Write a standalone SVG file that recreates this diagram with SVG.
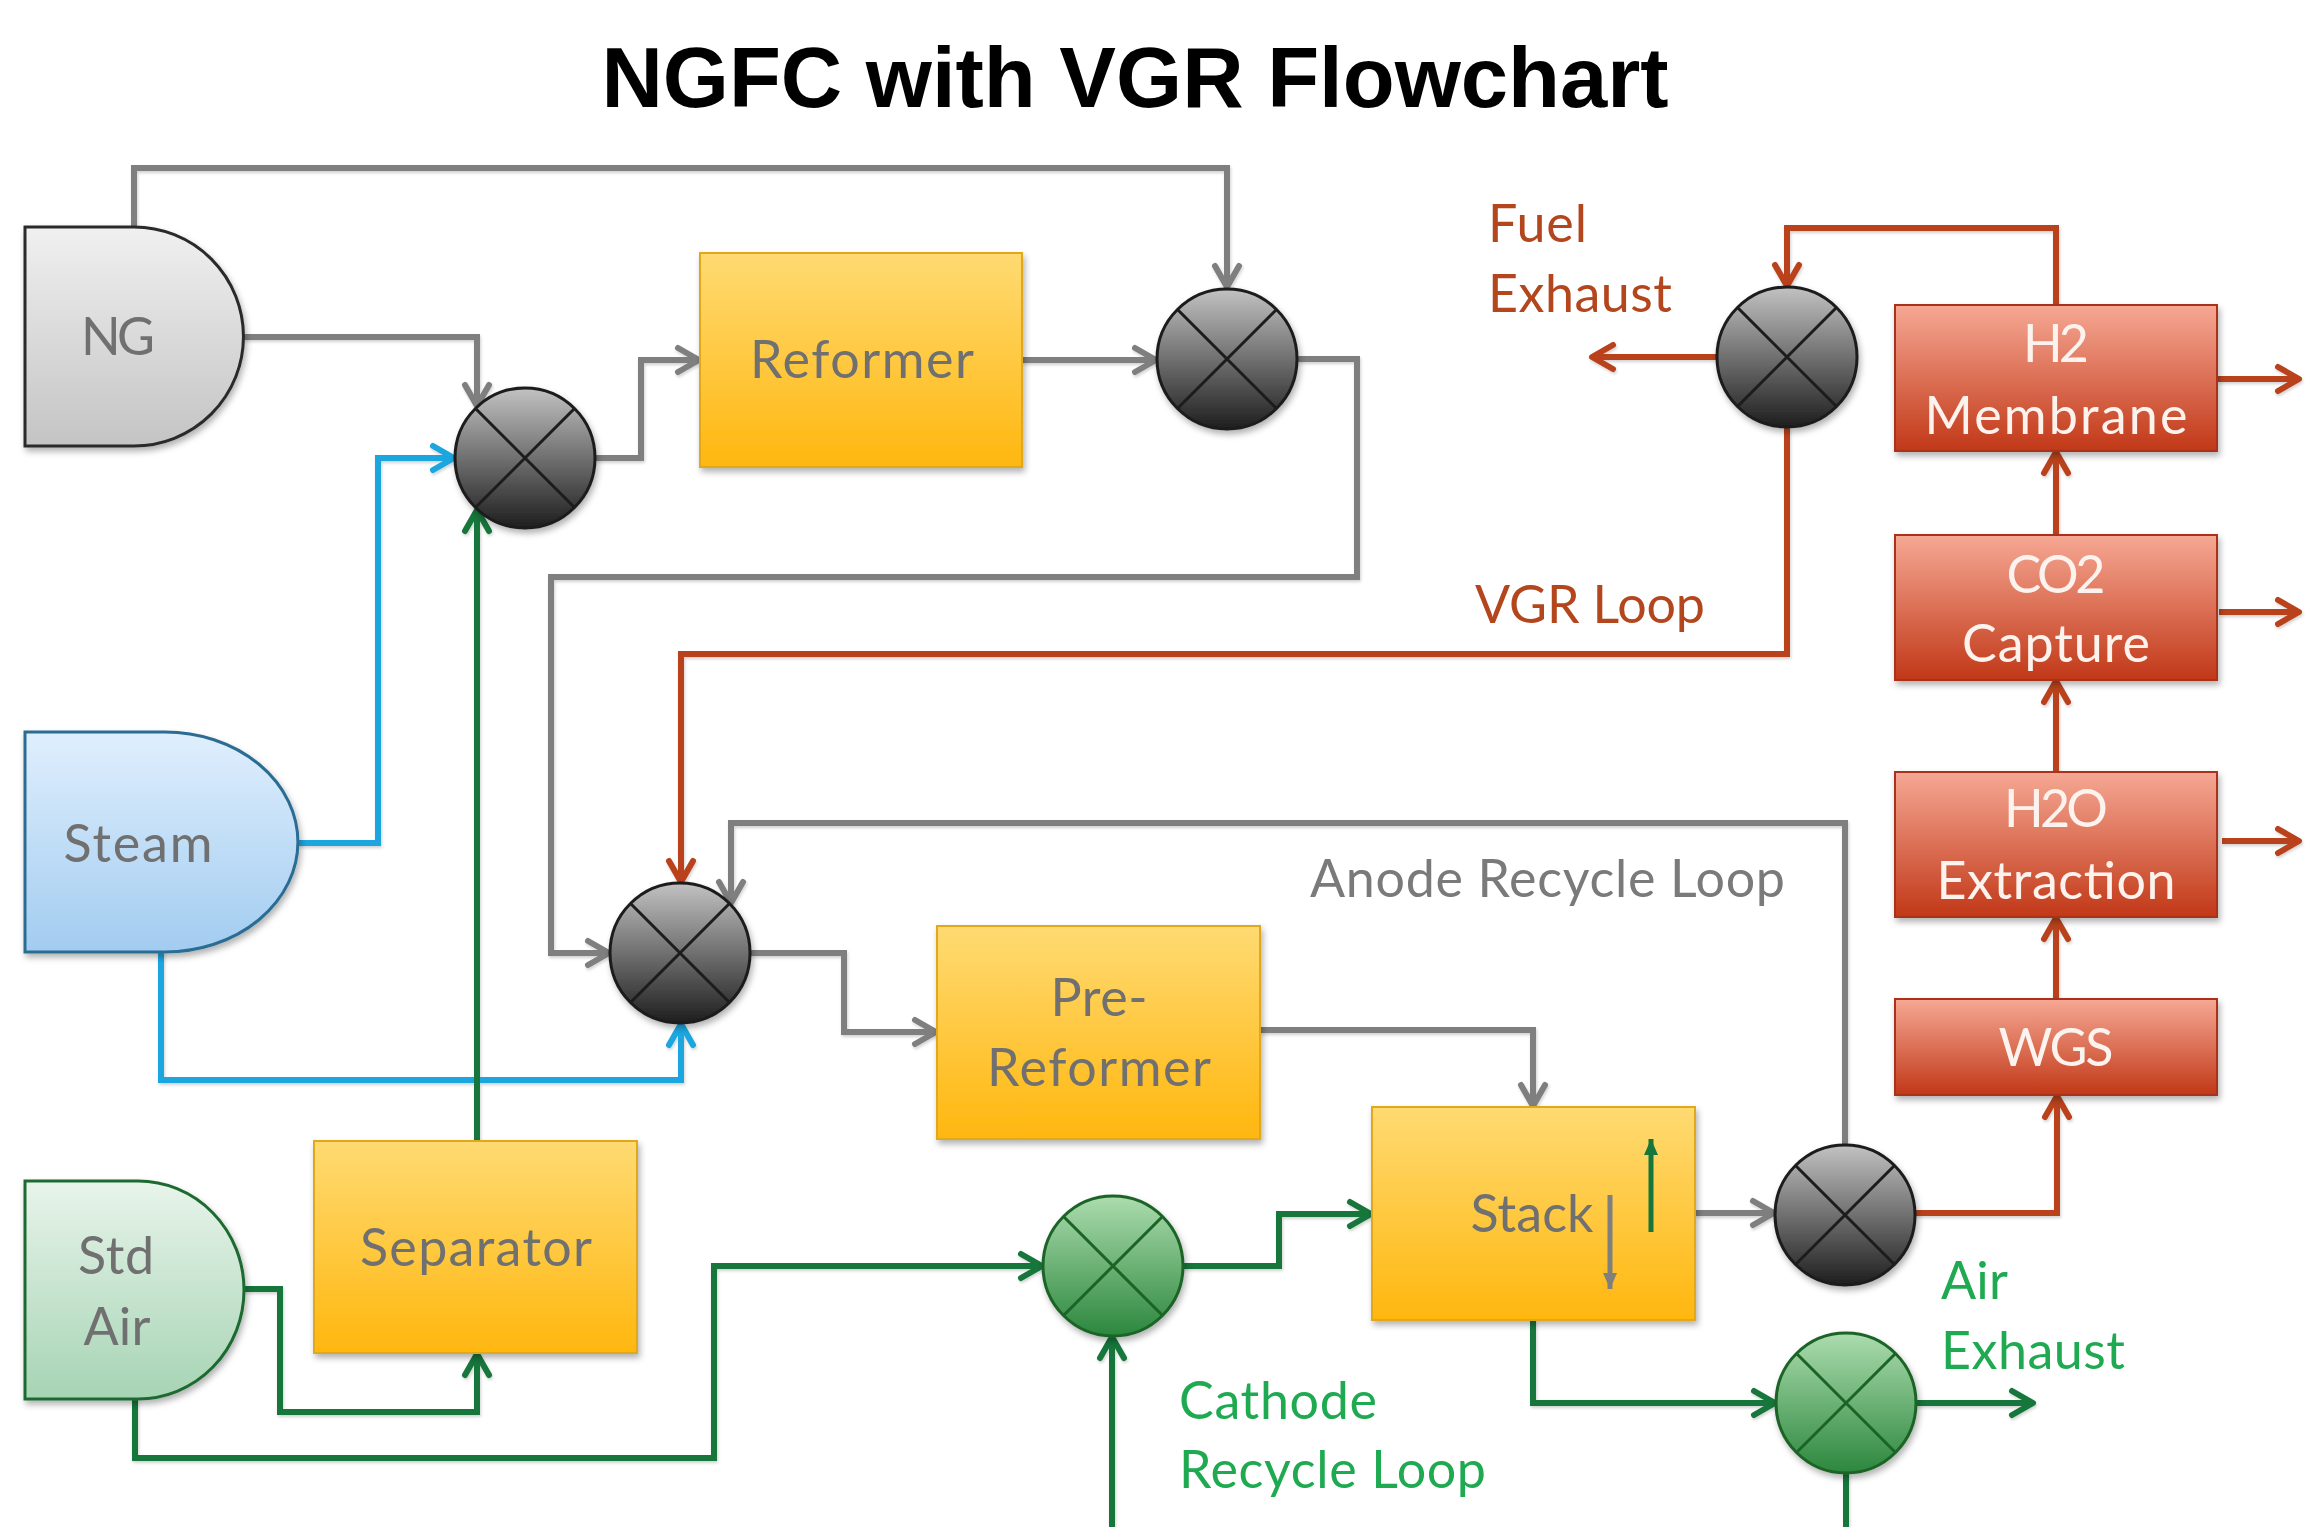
<svg xmlns="http://www.w3.org/2000/svg" width="2305" height="1527" viewBox="0 0 2305 1527">
  <style>
    .lbl { font-family: Lato, "Open Sans", "Liberation Sans", sans-serif; font-size: 52px; }
    .boxtxt { fill: #707070; text-anchor: middle; }
    .redtxt { fill: #fdf3ee; text-anchor: middle; }
    .title { font-family: "Liberation Sans", Arial, sans-serif; font-size: 85px; font-weight: bold; fill: #000; text-anchor: middle; }
    .ln { fill: none; stroke-width: 6; stroke-linejoin: miter; }
    .gray { stroke: #7f7f7f; }
    .blue { stroke: #1aa6e0; }
    .red { stroke: #b9421c; }
    .green { stroke: #18763a; }
    .ybox { fill: url(#gYellow); stroke: #e2a81e; stroke-width: 2; }
    .rbox { fill: url(#gRed); stroke: #a9321a; stroke-width: 2; }
    .mixg { fill: url(#gMixGray); stroke: #1c1c1c; stroke-width: 3; }
    .mixgr { fill: url(#gMixGreen); stroke: #1b6428; stroke-width: 3; }
    .xg { stroke: #1c1c1c; stroke-width: 3; }
    .xgr { stroke: #1b6428; stroke-width: 3; }
  </style>
  <defs>
    <linearGradient id="gYellow" x1="0" y1="0" x2="0" y2="1">
      <stop offset="0" stop-color="#ffda72"/>
      <stop offset="1" stop-color="#ffb70f"/>
    </linearGradient>
    <linearGradient id="gRed" x1="0" y1="0" x2="0" y2="1">
      <stop offset="0" stop-color="#f6a894"/>
      <stop offset="1" stop-color="#c13817"/>
    </linearGradient>
    <linearGradient id="gMixGray" x1="0" y1="0" x2="0" y2="1">
      <stop offset="0" stop-color="#c2c2c2"/>
      <stop offset="1" stop-color="#1e1e1e"/>
    </linearGradient>
    <linearGradient id="gMixGreen" x1="0" y1="0" x2="0" y2="1">
      <stop offset="0" stop-color="#acdcae"/>
      <stop offset="1" stop-color="#2c873d"/>
    </linearGradient>
    <linearGradient id="gNG" x1="0" y1="0" x2="0" y2="1">
      <stop offset="0" stop-color="#f0f0f0"/>
      <stop offset="1" stop-color="#c4c4c4"/>
    </linearGradient>
    <linearGradient id="gSteam" x1="0" y1="0" x2="0" y2="1">
      <stop offset="0" stop-color="#e0effd"/>
      <stop offset="1" stop-color="#a2ccf0"/>
    </linearGradient>
    <linearGradient id="gAir" x1="0" y1="0" x2="0" y2="1">
      <stop offset="0" stop-color="#e8f4eb"/>
      <stop offset="1" stop-color="#a6d4b4"/>
    </linearGradient>
    <filter id="shadow" x="-10%" y="-10%" width="130%" height="130%">
      <feDropShadow dx="2" dy="4" stdDeviation="3" flood-color="#000" flood-opacity="0.3"/>
    </filter>
    <filter id="lineShadow" x="-5%" y="-5%" width="110%" height="110%">
      <feDropShadow dx="1" dy="2" stdDeviation="1.5" flood-color="#000" flood-opacity="0.18"/>
    </filter>
    <!-- open chevron arrowheads, one per stream colour -->
    <marker id="aGray" viewBox="0 0 28 30" refX="25" refY="15" markerWidth="28" markerHeight="30" markerUnits="userSpaceOnUse" orient="auto" overflow="visible">
      <path d="M4,3 L25,15 L4,27" fill="none" stroke="#7f7f7f" stroke-width="6" stroke-linecap="round" stroke-linejoin="round"/>
    </marker>
    <marker id="aBlue" viewBox="0 0 28 30" refX="25" refY="15" markerWidth="28" markerHeight="30" markerUnits="userSpaceOnUse" orient="auto" overflow="visible">
      <path d="M4,3 L25,15 L4,27" fill="none" stroke="#1aa6e0" stroke-width="6" stroke-linecap="round" stroke-linejoin="round"/>
    </marker>
    <marker id="aRed" viewBox="0 0 28 30" refX="25" refY="15" markerWidth="28" markerHeight="30" markerUnits="userSpaceOnUse" orient="auto" overflow="visible">
      <path d="M4,3 L25,15 L4,27" fill="none" stroke="#b9421c" stroke-width="6" stroke-linecap="round" stroke-linejoin="round"/>
    </marker>
    <marker id="aGreen" viewBox="0 0 28 30" refX="25" refY="15" markerWidth="28" markerHeight="30" markerUnits="userSpaceOnUse" orient="auto" overflow="visible">
      <path d="M4,3 L25,15 L4,27" fill="none" stroke="#18763a" stroke-width="6" stroke-linecap="round" stroke-linejoin="round"/>
    </marker>
    <!-- small solid heads for the flow indicators inside the stack -->
    <marker id="tGray" viewBox="0 0 16 14" refX="16" refY="7" markerWidth="16" markerHeight="14" markerUnits="userSpaceOnUse" orient="auto">
      <path d="M0,0 L16,7 L0,14 Z" fill="#7f7f7f"/>
    </marker>
    <marker id="tGreen" viewBox="0 0 16 14" refX="16" refY="7" markerWidth="16" markerHeight="14" markerUnits="userSpaceOnUse" orient="auto">
      <path d="M0,0 L16,7 L0,14 Z" fill="#18763a"/>
    </marker>
  </defs>

  <rect width="2305" height="1527" fill="#ffffff"/>

  <text class="title" x="1135" y="107">NGFC with VGR Flowchart</text>

  <!-- connectors -->
  <g id="connectors" filter="url(#lineShadow)">
    <!-- fuel side (gray) -->
    <path class="ln gray" d="M134,227 V168 H1227 V287" marker-end="url(#aGray)"/>
    <path class="ln gray" d="M243,337 H477 V406" marker-end="url(#aGray)"/>
    <path class="ln gray" d="M595,458 H641 V360 H699" marker-end="url(#aGray)"/>
    <path class="ln gray" d="M1022,360 H1156" marker-end="url(#aGray)"/>
    <path class="ln gray" d="M1297,359 H1357 V577 H551 V953 H609" marker-end="url(#aGray)"/>
    <path class="ln gray" d="M1845,1145 V823 H731 V903" marker-end="url(#aGray)"/>
    <path class="ln gray" d="M750,953 H844 V1032 H936" marker-end="url(#aGray)"/>
    <path class="ln gray" d="M1260,1030 H1533 V1106" marker-end="url(#aGray)"/>
    <path class="ln gray" d="M1695,1213 H1774" marker-end="url(#aGray)"/>
    <!-- steam (blue) -->
    <path class="ln blue" d="M298,843 H378 V458 H454" marker-end="url(#aBlue)"/>
    <path class="ln blue" d="M161,952 V1080 H681 V1024" marker-end="url(#aBlue)"/>
    <!-- VGR / capture train (red) -->
    <path class="ln red" d="M1717,357 H1592" marker-end="url(#aRed)"/>
    <path class="ln red" d="M2056,305 V228 H1787 V286" marker-end="url(#aRed)"/>
    <path class="ln red" d="M1787,427 V654 H681 V882" marker-end="url(#aRed)"/>
    <path class="ln red" d="M1915,1213 H2057 V1096" marker-end="url(#aRed)"/>
    <path class="ln red" d="M2056,999 V918" marker-end="url(#aRed)"/>
    <path class="ln red" d="M2056,772 V681" marker-end="url(#aRed)"/>
    <path class="ln red" d="M2056,535 V452" marker-end="url(#aRed)"/>
    <path class="ln red" d="M2217,379 H2299" marker-end="url(#aRed)"/>
    <path class="ln red" d="M2219,612 H2299" marker-end="url(#aRed)"/>
    <path class="ln red" d="M2222,841 H2299" marker-end="url(#aRed)"/>
    <!-- air side (green) -->
    <path class="ln green" d="M477,1142 V510" marker-end="url(#aGreen)"/>
    <path class="ln green" d="M244,1289 H280 V1412 H477 V1354" marker-end="url(#aGreen)"/>
    <path class="ln green" d="M135,1399 V1458 H714 V1266 H1042" marker-end="url(#aGreen)"/>
    <path class="ln green" d="M1112,1527 V1337" marker-end="url(#aGreen)"/>
    <path class="ln green" d="M1183,1266 H1279 V1214 H1371" marker-end="url(#aGreen)"/>
    <path class="ln green" d="M1533,1320 V1403 H1775" marker-end="url(#aGreen)"/>
    <path class="ln green" d="M1916,1403 H2033" marker-end="url(#aGreen)"/>
    <path class="ln green" d="M1846,1473 V1527"/>
  </g>

  <!-- sources -->
  <g id="ng" filter="url(#shadow)">
    <path d="M25,227 H134 A109.5,109.5 0 0 1 134,446 H25 Z" fill="url(#gNG)" stroke="#2a2a2a" stroke-width="3"/>
    <text class="lbl boxtxt" x="118" y="355" textLength="74">NG</text>
  </g>
  <g id="steam" filter="url(#shadow)">
    <path d="M25,732 H165 A133,110 0 0 1 165,952 H25 Z" fill="url(#gSteam)" stroke="#2a6c93" stroke-width="3"/>
    <text class="lbl boxtxt" x="138" y="862" textLength="149">Steam</text>
  </g>
  <g id="std-air" filter="url(#shadow)">
    <path d="M25,1181 H138 A106,109 0 0 1 138,1399 H25 Z" fill="url(#gAir)" stroke="#1e6a30" stroke-width="3"/>
    <text class="lbl boxtxt" x="116" y="1274" textLength="76">Std</text>
    <text class="lbl boxtxt" x="117" y="1345" textLength="67">Air</text>
  </g>

  <!-- process units -->
  <g id="reformer" filter="url(#shadow)">
    <rect class="ybox" x="700" y="253" width="322" height="214"/>
    <text class="lbl boxtxt" x="862" y="378" textLength="224">Reformer</text>
  </g>
  <g id="pre-reformer" filter="url(#shadow)">
    <rect class="ybox" x="937" y="926" width="323" height="213"/>
    <text class="lbl boxtxt" x="1099" y="1016" textLength="97">Pre-</text>
    <text class="lbl boxtxt" x="1099" y="1086" textLength="224">Reformer</text>
  </g>
  <g id="separator" filter="url(#shadow)">
    <rect class="ybox" x="314" y="1141" width="323" height="212"/>
    <text class="lbl boxtxt" x="476" y="1266" textLength="232">Separator</text>
  </g>
  <g id="stack" filter="url(#shadow)">
    <rect class="ybox" x="1372" y="1107" width="323" height="213"/>
    <text class="lbl boxtxt" x="1532" y="1232" textLength="123">Stack</text>
    <path d="M1610,1195 V1289" stroke="#7f7f7f" stroke-width="5" fill="none" marker-end="url(#tGray)"/>
    <path d="M1651,1232 V1139" stroke="#18763a" stroke-width="5" fill="none" marker-end="url(#tGreen)"/>
  </g>

  <!-- CO2 capture train -->
  <g id="h2-membrane" filter="url(#shadow)">
    <rect class="rbox" x="1895" y="305" width="322" height="146"/>
    <text class="lbl redtxt" x="2056" y="362" textLength="66">H2</text>
    <text class="lbl redtxt" x="2056" y="434" textLength="263">Membrane</text>
  </g>
  <g id="co2-capture" filter="url(#shadow)">
    <rect class="rbox" x="1895" y="535" width="322" height="145"/>
    <text class="lbl redtxt" x="2056" y="593" textLength="99">CO2</text>
    <text class="lbl redtxt" x="2056" y="662" textLength="188">Capture</text>
  </g>
  <g id="h2o-extraction" filter="url(#shadow)">
    <rect class="rbox" x="1895" y="772" width="322" height="145"/>
    <text class="lbl redtxt" x="2056" y="827" textLength="104">H2O</text>
    <text class="lbl redtxt" x="2056" y="899" textLength="239">Extraction</text>
  </g>
  <g id="wgs" filter="url(#shadow)">
    <rect class="rbox" x="1895" y="999" width="322" height="96"/>
    <text class="lbl redtxt" x="2056" y="1066" textLength="115">WGS</text>
  </g>

  <!-- mixers -->
  <g id="mixer-feed" filter="url(#shadow)">
    <circle class="mixg" cx="525" cy="458" r="70"/>
    <path class="xg" d="M475.5,408.5 L574.5,507.5 M574.5,408.5 L475.5,507.5"/>
  </g>
  <g id="mixer-bypass" filter="url(#shadow)">
    <circle class="mixg" cx="1227" cy="359" r="70"/>
    <path class="xg" d="M1177.5,309.5 L1276.5,408.5 M1276.5,309.5 L1177.5,408.5"/>
  </g>
  <g id="mixer-anode" filter="url(#shadow)">
    <circle class="mixg" cx="680" cy="953" r="70"/>
    <path class="xg" d="M630.5,903.5 L729.5,1002.5 M729.5,903.5 L630.5,1002.5"/>
  </g>
  <g id="mixer-vgr" filter="url(#shadow)">
    <circle class="mixg" cx="1787" cy="357" r="70"/>
    <path class="xg" d="M1737.5,307.5 L1836.5,406.5 M1836.5,307.5 L1737.5,406.5"/>
  </g>
  <g id="mixer-split" filter="url(#shadow)">
    <circle class="mixg" cx="1845" cy="1215" r="70"/>
    <path class="xg" d="M1795.5,1165.5 L1894.5,1264.5 M1894.5,1165.5 L1795.5,1264.5"/>
  </g>
  <g id="mixer-cathode" filter="url(#shadow)">
    <circle class="mixgr" cx="1113" cy="1266" r="70"/>
    <path class="xgr" d="M1063.5,1216.5 L1162.5,1315.5 M1162.5,1216.5 L1063.5,1315.5"/>
  </g>
  <g id="mixer-air-exhaust" filter="url(#shadow)">
    <circle class="mixgr" cx="1846" cy="1403" r="70"/>
    <path class="xgr" d="M1796.5,1353.5 L1895.5,1452.5 M1895.5,1353.5 L1796.5,1452.5"/>
  </g>

  <!-- stream labels -->
  <g id="labels" class="lbl">
    <text x="1488" y="242" fill="#b4461e" textLength="99">Fuel</text>
    <text x="1488" y="312" fill="#b4461e" textLength="184">Exhaust</text>
    <text x="1475" y="623" fill="#b4461e" textLength="230">VGR Loop</text>
    <text x="1310" y="897" fill="#7a7a7a" textLength="475">Anode Recycle Loop</text>
    <text x="1179" y="1419" fill="#1faa52" textLength="198">Cathode</text>
    <text x="1179" y="1488" fill="#1faa52" textLength="307">Recycle Loop</text>
    <text x="1941" y="1299" fill="#1faa52" textLength="67">Air</text>
    <text x="1941" y="1369" fill="#1faa52" textLength="184">Exhaust</text>
  </g>
</svg>
